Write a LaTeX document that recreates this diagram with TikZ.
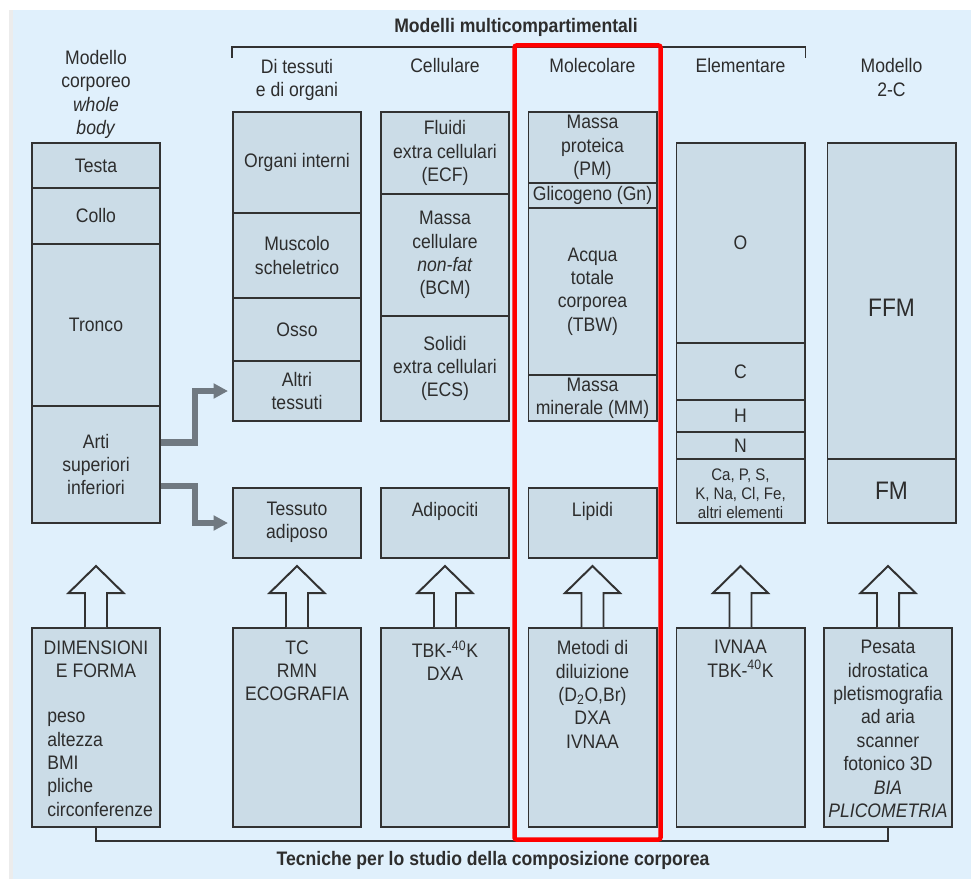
\documentclass[tikz,border=0pt]{standalone}
\usepackage{xcolor}
\usepackage{tikz}
\usepackage{fontspec}
\setmainfont{Liberation Sans}[FakeStretch=0.9]
\usetikzlibrary{arrows.meta, positioning, calc}
\definecolor{panelblue}{RGB}{224,240,252}
\definecolor{cellfill}{RGB}{203,220,231}
\definecolor{cellline}{RGB}{50,50,50}
\definecolor{inkgray}{RGB}{45,45,45}
\definecolor{limbgray}{RGB}{112,121,129}
\definecolor{edgegray}{RGB}{236,236,236}
\definecolor{markred}{RGB}{255,0,0}

\begin{document}
\begin{tikzpicture}[x=0.025cm, y=-0.025cm,
    every node/.style={text=inkgray, font=\fontsize{13.9}{16.6}\selectfont},
    seg/.style={draw=cellline, fill=cellfill, line width=1.4pt, minimum width=3.2cm, inner sep=0pt, align=center},
    tall/.style={minimum height=#1*0.025cm},
    toptext/.style={inner sep=0pt, align=center},
    hdr/.style={inner sep=0pt, align=center},
    hollow/.style={draw=cellline, fill=panelblue, line width=1.4pt, line join=miter},
    limb/.style={draw=limbgray, line width=0.1625cm, -{Triangle[width=0.36cm,length=0.36cm]}, shorten >=0.1cm},
    bracket/.style={draw=cellline, line width=1.1pt}]

    % Page and panel
    \fill[white] (0,0) rectangle (971,879);
    \fill[edgegray] (9,10) rectangle (13,879);
    \fill[panelblue] (13,10) rectangle (971,879);
    \useasboundingbox (0,0) rectangle (971,879);

    % Titles
    \node[font=\bfseries\fontsize{13.9}{16.6}\selectfont] (multi) at (516,27) {Modelli multicompartimentali};
    \node[font=\bfseries\fontsize{13.9}{16.6}\selectfont] (tecn) at (493,860) {Tecniche per lo studio della composizione corporea};

    % Column headers
    \node[hdr] (hwhole) at (96,94.5) {Modello\\corporeo\\\textit{whole}\\\textit{body}};
    \node[hdr] (htess) at (297,80) {Di tessuti\\e di organi};
    \node[hdr] (hcell) at (445,66) {Cellulare};
    \node[hdr] (hmol) at (592.5,66) {Molecolare};
    \node[hdr] (helem) at (740.5,66) {Elementare};
    \node[hdr] (htwo) at (891.5,77.5) {Modello\\2-C};

    % Whole body
    \node[seg, tall=45] (testa) at (96,165.5) {Testa};
    \node[seg, tall=56] (collo) at (96,216) {Collo};
    \node[seg, tall=162] (tronco) at (96,325) {Tronco};
    \node[seg, tall=117] (arti) at (96,464.5) {Arti\\superiori\\inferiori};

    % Tissues and organs
    \node[seg, tall=101] (organi) at (297,162.5) {Organi interni};
    \node[seg, tall=85] (muscolo) at (297,255.5) {Muscolo\\scheletrico};
    \node[seg, tall=63] (osso) at (297,329.5) {Osso};
    \node[seg, tall=60] (altri) at (297,391) {Altri\\tessuti};
    \node[seg, tall=70] (adiposo) at (297,523) {};
    \node[toptext, below=0.37cm of adiposo.north] (adiposotxt) {Tessuto\\adiposo};

    % Cellular
    \node[seg, tall=82] (ecf) at (445,153) {Fluidi\\extra cellulari\\(ECF)};
    \node[seg, tall=122] (bcm) at (445,255) {Massa\\cellulare\\\textit{non-fat}\\(BCM)};
    \node[seg, tall=105] (ecs) at (445,368.5) {Solidi\\extra cellulari\\(ECS)};
    \node[seg, tall=70] (adipoc) at (445,523) {};
    \node[toptext, below=0.37cm of adipoc.north] (adipoctxt) {Adipociti};

    % Molecular
    \node[seg, tall=71] (pm) at (592.5,147.5) {Massa\\proteica\\(PM)};
    \node[seg, tall=25] (gn) at (592.5,195.5) {Glicogeno (Gn)};
    \node[seg, tall=167] (tbw) at (592.5,291.5) {Acqua\\totale\\corporea\\(TBW)};
    \node[seg, tall=46] (mm) at (592.5,398) {Massa\\minerale (MM)};
    \node[seg, tall=70] (lipidi) at (592.5,523) {};
    \node[toptext, below=0.37cm of lipidi.north] (lipiditxt) {Lipidi};

    % Elemental
    \node[seg, tall=200] (oxy) at (740.5,243) {O};
    \node[seg, tall=57] (carb) at (740.5,371.5) {C};
    \node[seg, tall=32] (hyd) at (740.5,416) {H};
    \node[seg, tall=27] (nit) at (740.5,445.5) {N};
    \node[seg, tall=64] (others) at (740.5,491) {};
    \node[toptext, font=\fontsize{11.9}{13.6}\selectfont] (otherstxt) at (740.5,494) {Ca, P, S,\\K, Na, Cl, Fe,\\altri elementi};

    % Two compartments
    \node[seg, tall=316] (ffm) at (891.5,301) {};
    \node[toptext, font=\fontsize{18}{20}\selectfont] (ffmtxt) at (891.5,308) {FFM};
    \node[seg, tall=64, font=\fontsize{18}{20}\selectfont] (fm) at (891.5,491) {FM};

    % Techniques
    \node[seg, tall=199] (tdim) at (96,727.5) {};
    \node[seg, tall=199] (ttes) at (297,727.5) {};
    \node[seg, tall=199] (tcel) at (445,727.5) {};
    \node[seg, tall=199] (tmol) at (592.5,727.5) {};
    \node[seg, tall=199] (tele) at (740.5,727.5) {};
    \node[seg, tall=199] (tpes) at (888,727.5) {};
    \node[toptext, below=0.33cm of tdim.north] (tdimhead) {DIMENSIONI\\E FORMA};
    \node[toptext, align=left, anchor=north west] (tdimlist) at (47,712) {peso\\altezza\\BMI\\pliche\\circonferenze};
    \node[toptext, below=0.33cm of ttes.north] (ttestxt) {TC\\RMN\\ECOGRAFIA};
    \node[toptext, below=0.33cm of tcel.north] (tceltxt) {TBK-\textsuperscript{40}K\\DXA};
    \node[toptext, below=0.33cm of tmol.north] (tmoltxt) {Metodi di\\diluizione\\(D\textsubscript{2}O,Br)\\DXA\\IVNAA};
    \node[toptext, below=0.33cm of tele.north] (teletxt) {IVNAA\\TBK-\textsuperscript{40}K};
    \node[toptext, below=0.33cm of tpes.north] (tpestxt) {Pesata\\idrostatica\\pletismografia\\ad aria\\scanner\\fotonico 3D\\\textit{BIA}\\\textit{PLICOMETRIA}};

    % Hollow arrows up
    \foreach \t in {tdim,ttes,tcel,tmol,tele,tpes} {
        \draw[hollow] ($(\t.north)+(-11,0)$) -- ++(0,-34) -- ++(-16.5,0) -- ++(27.5,-27) -- ++(27.5,27) -- ++(-16.5,0) -- ++(0,34);
    }

    % Limbs split into tissues
    \draw[limb] ($(arti.east)+(0,-22)$) -| ($(altri.west)+(-37,0)$) -- (altri.west);
    \draw[limb] ($(arti.east)+(0,21.5)$) -| ($(adiposo.west)+(-37,0)$) -- (adiposo.west);

    % Brackets
    \draw[bracket] (organi.west |- 0,58) -- (organi.west |- 0,47) -- (oxy.east |- 0,47) -- (oxy.east |- 0,58);
    \draw[bracket] (tdim.south) -- ++(0,13) -| (tpes.south);

    % Highlight
    \draw[markred, line width=0.1125cm, rounded corners=0.05cm] (514.5,45.5) rectangle (660.5,839.5);
\end{tikzpicture}
\end{document}
